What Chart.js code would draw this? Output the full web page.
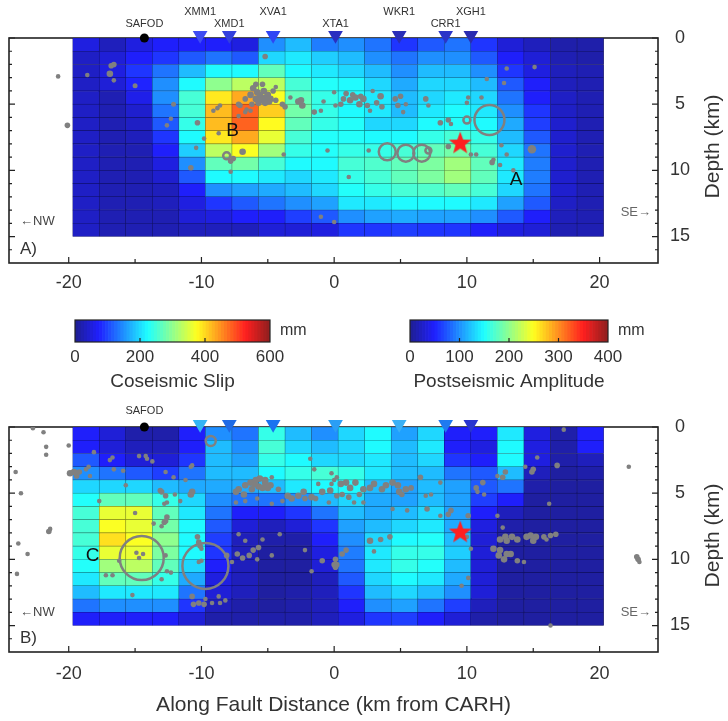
<!DOCTYPE html>
<html>
<head>
<meta charset="utf-8">
<script src="https://cdn.jsdelivr.net/npm/chart.js@4.4.1/dist/chart.umd.min.js"></script>
<style>
  body { margin: 0; background: #fff; width: 728px; height: 721px; position: relative; overflow: hidden; }
  canvas { position: absolute; }
</style>
</head>
<body>
<canvas id="panelA" width="728" height="300" style="left:0;top:0"></canvas>
<canvas id="cbCo" width="270" height="95" style="left:55px;top:305px"></canvas>
<canvas id="cbPost" width="270" height="95" style="left:390px;top:305px"></canvas>
<canvas id="panelB" width="728" height="321" style="left:0;top:400px"></canvas>
<script>
// fault patch centres (km along fault) and patch top depths (km)
const faultX = [-18.7, -16.7, -14.7, -12.7, -10.7, -8.7, -6.7, -4.7, -2.7, -0.7, 1.3, 3.3, 5.3, 7.3, 9.3, 11.3, 13.3, 15.3, 17.3, 19.3];
const depthTop = [0, 1, 2, 3, 4, 5, 6, 7, 8, 9, 10, 11, 12, 13, 14];

const xTicks = [-20, -15, -10, -5, 0, 5, 10, 15, 20];
const depthTicks = [0, 1, 2, 3, 4, 5, 6, 7, 8, 9, 10, 11, 12, 13, 14, 15, 16];
const coTicks = [0, 200, 400, 600];
const postTicks = [0, 100, 200, 300, 400];

// coseismic slip (mm), one row per depth
const coseismicSlip = [
  [54, 30, 54, 72, 72, 72, 54, 150, 180, 138, 150, 132, 90, 114, 132, 90, 48, 30, 18, 18],
  [36, 48, 72, 90, 114, 132, 114, 198, 210, 192, 180, 150, 132, 150, 150, 114, 72, 48, 24, 18],
  [36, 54, 90, 132, 180, 222, 222, 270, 222, 210, 198, 180, 150, 180, 180, 150, 90, 54, 30, 24],
  [36, 48, 78, 150, 222, 300, 330, 330, 252, 228, 222, 198, 168, 198, 198, 180, 114, 72, 30, 24],
  [36, 24, 60, 150, 252, 390, 432, 372, 270, 240, 222, 210, 180, 198, 210, 198, 132, 72, 36, 24],
  [36, 24, 42, 132, 252, 420, 480, 408, 282, 240, 222, 210, 180, 210, 222, 210, 150, 90, 36, 24],
  [36, 24, 36, 114, 240, 420, 480, 378, 270, 240, 228, 198, 198, 222, 228, 222, 168, 96, 42, 24],
  [36, 24, 30, 90, 222, 390, 432, 360, 252, 228, 228, 222, 222, 240, 252, 240, 180, 114, 42, 24],
  [36, 24, 24, 72, 192, 330, 372, 312, 240, 228, 240, 240, 252, 270, 282, 252, 198, 132, 42, 24],
  [36, 24, 24, 54, 150, 270, 282, 252, 222, 222, 252, 258, 270, 288, 312, 270, 210, 138, 42, 24],
  [36, 24, 24, 42, 114, 222, 222, 210, 198, 210, 240, 252, 270, 288, 312, 270, 210, 138, 42, 24],
  [36, 24, 24, 30, 72, 150, 162, 168, 180, 198, 228, 240, 252, 258, 270, 252, 198, 132, 42, 24],
  [36, 24, 24, 30, 54, 90, 114, 132, 150, 162, 210, 210, 222, 222, 222, 210, 162, 114, 36, 24],
  [36, 24, 24, 24, 48, 54, 72, 72, 96, 114, 150, 162, 168, 162, 162, 150, 114, 72, 30, 24],
  [36, 24, 24, 24, 30, 30, 30, 48, 48, 54, 90, 90, 96, 90, 90, 72, 54, 48, 24, 24]
];

// postseismic amplitude (mm)
const postseismicAmp = [
  [48, 32, 12, 12, 48, 100, 88, 160, 120, 100, 132, 148, 108, 132, 48, 48, 140, 36, 12, 48],
  [48, 32, 20, 20, 48, 120, 100, 168, 132, 120, 132, 148, 120, 140, 48, 36, 148, 36, 12, 48],
  [76, 48, 32, 32, 60, 120, 108, 160, 148, 132, 132, 140, 120, 132, 60, 48, 148, 36, 12, 20],
  [100, 88, 76, 64, 88, 120, 120, 148, 160, 168, 160, 140, 120, 120, 88, 76, 120, 20, 8, 12],
  [132, 132, 132, 120, 112, 112, 112, 120, 140, 148, 148, 120, 108, 120, 108, 76, 88, 12, 8, 8],
  [152, 180, 180, 160, 132, 100, 88, 88, 100, 120, 132, 112, 108, 120, 108, 64, 48, 8, 8, 8],
  [168, 240, 240, 180, 140, 88, 48, 48, 60, 88, 120, 112, 120, 132, 108, 48, 20, 8, 8, 8],
  [168, 248, 240, 188, 148, 76, 32, 20, 32, 60, 108, 120, 132, 140, 112, 36, 12, 8, 8, 8],
  [168, 264, 248, 200, 148, 64, 20, 12, 12, 48, 100, 132, 148, 152, 120, 32, 8, 8, 8, 8],
  [160, 240, 240, 192, 148, 60, 20, 8, 8, 36, 92, 140, 160, 160, 128, 32, 8, 8, 8, 8],
  [152, 208, 220, 180, 132, 48, 20, 8, 8, 32, 88, 140, 160, 152, 120, 32, 8, 8, 8, 8],
  [140, 180, 180, 160, 112, 36, 20, 8, 8, 20, 76, 132, 148, 140, 112, 32, 8, 8, 8, 8],
  [120, 140, 140, 140, 88, 32, 20, 8, 12, 20, 60, 120, 132, 120, 100, 32, 8, 8, 8, 8],
  [88, 100, 100, 100, 60, 20, 12, 8, 12, 20, 48, 100, 108, 88, 64, 20, 8, 8, 8, 8],
  [48, 48, 48, 48, 32, 12, 12, 12, 12, 20, 36, 60, 64, 48, 32, 12, 8, 8, 8, 8]
];

// seismicity: [km along fault, depth km, dot radius]
const quakesA = [
  [-20.8, 2.9, 2], [-20.1, 6.6, 2.5], [-18.6, 2.8, 2], [-16.8, 2.1, 2.5], [-16.6, 2.0, 2.5], [-16.9, 2.7, 3], [-16.6, 3.2, 2],
  [-15.0, 3.6, 2.2], [-12.1, 5.0, 2.2], [-12.3, 6.1, 2], [-12.6, 6.6, 2], [-10.3, 6.4, 2.5], [-9.8, 7.6, 2], [-10.4, 8.3, 2],
  [-10.8, 9.8, 2.5], [-8.7, 7.2, 2], [-9.1, 5.5, 2], [-8.8, 5.3, 2], [-8.6, 5.1, 2], [-7.8, 9.3, 2.5], [-7.6, 9.1, 2.5],
  [-7.8, 10.1, 2], [-6.9, 8.6, 3], [-3.8, 8.8, 2], [-5.2, 1.4, 2.5],
  [-6.1, 3.8, 3], [-5.8, 4.1, 3], [-5.4, 3.5, 2.5], [-5.2, 4.5, 3], [-4.9, 4.8, 3], [-5.5, 4.7, 3], [-5.9, 4.6, 3],
  [-6.2, 5.0, 2.5], [-6.7, 4.6, 2.5], [-7.2, 5.0, 2.5], [-7.1, 5.1, 2.5], [-4.4, 3.7, 2], [-3.9, 5.0, 2.5], [-3.7, 5.2, 2.5],
  [-3.3, 4.5, 2], [-2.7, 4.8, 3], [-2.4, 5.1, 3], [-2.5, 4.7, 3], [-1.5, 5.6, 2.5], [-1.0, 5.5, 2], [-0.8, 4.8, 2],
  [0.0, 4.1, 2], [0.1, 5.1, 2], [-0.5, 8.5, 2], [-6.7, 5.6, 2], [-6.3, 5.5, 2], [-6.6, 5.4, 2], [-5.6, 4.3, 3],
  [-5.3, 4.0, 3], [-5.0, 4.3, 3], [-4.8, 4.6, 3], [-5.7, 4.9, 3], [-6.3, 4.3, 3], [-4.6, 4.0, 2.5], [-5.9, 3.5, 2.5],
  [-5.2, 4.9, 3], [-4.4, 4.7, 2.5], [-7.2, 5.9, 2], [-1.0, 13.5, 2], [0.0, 13.9, 2], [1.1, 10.5, 2],
  [0.9, 4.2, 2.5], [1.2, 4.7, 3], [1.6, 4.5, 3], [1.9, 5.0, 3], [2.2, 4.6, 3], [2.5, 5.1, 2.5], [2.9, 4.0, 2],
  [3.2, 4.9, 2.5], [3.5, 4.4, 3], [3.6, 5.2, 2.5], [0.5, 5.0, 2.5], [0.7, 4.6, 2.5], [2.7, 5.5, 2], [1.4, 4.3, 2.5],
  [2.0, 4.4, 2.5], [4.6, 4.6, 2.5], [5.0, 4.4, 2.5], [4.8, 5.1, 2.5], [5.4, 5.0, 2], [5.2, 5.6, 2], [6.9, 4.6, 2.5],
  [7.1, 5.1, 2], [8.0, 6.4, 2.5], [8.6, 6.2, 2.5], [8.8, 6.5, 2], [10.1, 4.5, 2], [10.0, 4.9, 2], [11.1, 4.5, 2],
  [11.5, 3.1, 2], [12.8, 3.4, 2], [13.0, 2.3, 2], [15.1, 2.2, 2], [8.6, 8.2, 2.5], [10.3, 8.8, 2], [10.7, 8.8, 2],
  [11.9, 9.4, 2.5], [12.0, 9.2, 2], [12.5, 9.6, 2], [12.6, 8.1, 2], [13.0, 8.8, 2], [13.5, 10.0, 2], [14.9, 8.4, 4],
  [2.6, 8.5, 2]
];
const quakesB = [
  [-22.7, 0.1, 2], [-21.9, 0.4, 2], [-21.7, 1.5, 2], [-21.7, 2.1, 2], [-24.0, 3.4, 2], [-23.6, 5.0, 2], [-21.5, 7.9, 2.5],
  [-21.4, 7.7, 2], [-23.8, 8.8, 2], [-23.1, 9.6, 2], [-23.9, 11.1, 2], [-20.0, 1.4, 2],
  [-18.1, 1.9, 2], [-16.7, 2.3, 2], [-16.9, 2.5, 2], [-14.7, 2.2, 2], [-14.2, 2.2, 2], [-14.1, 2.4, 2], [-13.7, 2.6, 2],
  [-19.6, 3.4, 3], [-19.9, 3.5, 3], [-19.2, 3.4, 2.5], [-18.7, 3.2, 2], [-18.5, 3.0, 2], [-19.4, 3.7, 2.5], [-18.4, 3.7, 2],
  [-16.6, 3.2, 2], [-15.9, 3.3, 2], [-15.7, 4.4, 2], [-17.7, 5.6, 2], [-15.0, 6.5, 2],
  [-13.0, 4.9, 2.5], [-12.7, 5.2, 2.5], [-13.1, 4.8, 2.5], [-12.0, 5.1, 2], [-12.6, 5.7, 2], [-12.8, 5.8, 2], [-12.6, 6.8, 2.5],
  [-12.7, 7.1, 2.5], [-12.8, 7.2, 2.5], [-13.6, 7.3, 2], [-13.0, 7.5, 2],
  [-10.7, 4.9, 3], [-10.8, 5.1, 3], [-11.6, 5.6, 2], [-12.1, 3.8, 2], [-11.2, 4.0, 2], [-10.7, 2.9, 2], [-10.8, 3.0, 2], [-12.7, 3.4, 2],
  [-10.3, 8.3, 2.5], [-10.2, 8.7, 2.5], [-10.1, 9.0, 2.5], [-10.0, 9.2, 2],
  [-12.7, 9.7, 2], [-13.0, 11.5, 2], [-12.6, 10.9, 2], [-12.3, 11.0, 2],
  [-14.4, 9.6, 2], [-14.9, 9.5, 2], [-14.7, 9.9, 2], [-16.2, 10.1, 2], [-17.2, 11.2, 2], [-16.7, 11.2, 2], [-15.2, 12.7, 2],
  [-10.7, 12.8, 2.5], [-10.6, 13.4, 2.5], [-10.2, 13.3, 2.5], [-9.8, 13.4, 2.5], [-9.7, 13.0, 2], [-9.2, 13.3, 2], [-8.7, 12.8, 2],
  [-8.6, 13.3, 2], [-8.2, 13.1, 2], [-10.0, 10.1, 2], [-10.2, 10.2, 2],
  [-7.4, 4.9, 3], [-7.2, 4.7, 3], [-6.7, 4.4, 3], [-6.3, 4.2, 3], [-5.9, 4.0, 3], [-5.6, 3.9, 3], [-5.2, 4.2, 3], [-4.8, 4.4, 3],
  [-5.4, 4.6, 3], [-6.2, 4.7, 3], [-6.8, 5.1, 3], [-7.4, 5.7, 2], [-6.7, 5.6, 2], [-5.8, 5.4, 2], [-5.2, 4.0, 3], [-4.7, 3.8, 2],
  [-5.0, 4.6, 3], [-5.7, 4.5, 3], [-6.0, 4.3, 3],
  [-4.2, 4.7, 2.5], [-3.5, 5.2, 3], [-3.2, 5.4, 3], [-2.7, 5.2, 3], [-2.3, 4.9, 3], [-2.2, 5.4, 2.5], [-1.7, 5.3, 3], [-1.2, 4.3, 2],
  [-1.4, 5.4, 2.5], [-0.2, 3.5, 2], [0.0, 4.0, 2], [-0.9, 4.9, 3], [-0.3, 4.8, 3], [-0.4, 5.7, 2], [-1.8, 2.4, 2], [-1.5, 3.2, 2],
  [-4.7, 5.8, 2], [-3.9, 5.6, 2],
  [-7.2, 8.1, 2], [-6.7, 8.6, 2], [-6.1, 9.3, 2.5], [-5.7, 9.1, 2.5], [-5.4, 8.5, 2], [-5.8, 10.0, 2], [-6.4, 9.7, 2.5], [-6.9, 9.9, 2.5],
  [-7.7, 10.2, 2], [-8.1, 9.7, 2.5], [-7.3, 9.6, 2.5], [-4.7, 9.7, 2], [-4.1, 8.1, 2], [-2.2, 9.3, 2], [-1.7, 10.9, 2], [-0.9, 10.1, 2.5],
  [0.0, 10.4, 2.5], [0.1, 10.0, 2.5],
  [-0.2, 4.3, 2], [0.2, 3.8, 2], [0.5, 4.3, 3], [0.9, 4.2, 3], [1.2, 4.6, 3], [1.6, 4.2, 3], [2.2, 4.7, 3], [2.7, 4.6, 3],
  [3.0, 4.3, 3], [3.6, 4.7, 3], [3.9, 4.4, 3], [4.4, 4.2, 3], [4.8, 4.4, 3], [4.9, 4.9, 3], [5.1, 5.1, 2.5], [5.4, 4.7, 3],
  [5.8, 4.6, 2.5], [0.2, 5.2, 2.5], [0.6, 5.1, 2.5], [1.1, 5.3, 2.5], [1.9, 5.1, 2.5], [1.5, 5.7, 2], [2.2, 5.7, 2],
  [6.5, 3.8, 2.5], [6.9, 5.2, 2], [7.3, 5.1, 2], [5.5, 6.3, 2], [4.4, 6.2, 2], [7.0, 6.2, 2.5], [8.0, 6.7, 2], [8.8, 6.3, 2.5],
  [8.6, 6.6, 2.5], [10.1, 6.7, 2.5], [10.0, 8.3, 2], [10.3, 9.2, 2], [10.1, 11.4, 2], [9.6, 12.0, 2],
  [2.7, 8.6, 3], [3.5, 8.5, 2.5], [4.2, 8.3, 2.5], [3.0, 9.4, 2], [0.9, 9.3, 2.5], [0.6, 9.6, 2.5], [0.2, 10.4, 2.5], [0.1, 10.6, 2.5],
  [8.0, 4.2, 2], [10.7, 4.6, 2.5], [11.2, 4.2, 2.5], [11.3, 5.1, 2], [10.8, 4.9, 2], [12.3, 3.7, 2], [12.7, 3.8, 2.5], [12.9, 3.4, 2.5],
  [14.4, 3.0, 2], [14.9, 3.4, 2.5], [15.0, 3.2, 2.5], [15.3, 2.3, 2], [16.8, 2.9, 2.5], [17.3, 0.2, 2], [16.2, 5.8, 2], [12.3, 6.7, 2],
  [12.7, 7.6, 2],
  [12.5, 8.5, 3], [13.0, 8.6, 3], [13.4, 8.3, 3], [13.8, 8.5, 3], [12.9, 8.3, 3], [12.0, 9.2, 3], [12.5, 9.3, 3], [13.0, 9.6, 3],
  [12.8, 10.0, 3], [13.3, 9.6, 3], [12.4, 9.7, 3], [13.8, 10.1, 2.5], [14.3, 10.2, 2],
  [14.5, 8.3, 3], [14.8, 8.2, 3], [15.2, 8.3, 3], [15.8, 8.3, 2.5], [16.3, 8.2, 2.5], [16.7, 8.1, 2.5], [16.0, 8.5, 2], [15.0, 8.6, 3],
  [16.3, 15.0, 2], [22.2, 3.0, 2], [22.9, 10.0, 2.5], [22.8, 9.8, 2.5], [23.0, 10.2, 2]
];

// larger events drawn as open circles: [km, depth km, radius px]
const ringsA = [[11.7, 6.2, 15], [4.0, 8.6, 8.5], [5.4, 8.7, 8.5], [6.6, 8.7, 8.5], [10.0, 6.2, 3.5], [-8.1, 8.9, 3.5], [7.1, 8.5, 3]];
const ringsB = [[-9.3, 1.06, 5], [-14.5, 9.9, 22], [-9.7, 10.5, 23]];

const epicenter = [9.5, 7.9];
const safodX = -14.3;

const stationNames = ['XMM1', 'XMD1', 'XVA1', 'XTA1', 'WKR1', 'CRR1', 'XGH1'];
const stationX = [-10.1, -7.9, -4.6, 0.1, 4.9, 8.4, 10.3];
const stationLabelRow = [1, 0, 1, 0, 1, 0, 1];
const stationColorsA = ['#3f4cf2', '#3340dd', '#2f45f5', '#2a30c0', '#2b2fb8', '#2b35c8', '#2a2cb0'];
const stationColorsB = ['#33b5f5', '#1f6ae6', '#1a73f0', '#2a9ef5', '#3bb0f5', '#1f7af0', '#2a35d0'];

const FONT = '"Liberation Sans", Arial, Helvetica, sans-serif';
Chart.defaults.font.family = FONT;
Chart.defaults.color = '#333';

// matlab-style jet, slightly washed toward white like the printed figure
function jetRGB(v) {
  v = Math.max(0, Math.min(1, v));
  const f = t => 255 * Math.max(0, Math.min(1, 1.5 - Math.abs(4 * v - t)));
  return [f(3), f(2), f(1)].map(c => c * 0.88 + 255 * 0.12);
}
function rgb(c, k) {
  return 'rgb(' + c.map(x => Math.round(x * k)).join(',') + ')';
}
function jet(v) { return rgb(jetRGB(v), 1); }

function cellPoints(grid) {
  const pts = [];
  depthTop.forEach((d, r) => {
    faultX.forEach((x, c) => {
      pts.push({ x: x, y: [d, d + 1], v: grid[r][c] });
    });
  });
  return pts;
}

function starImage(R, r, color) {
  const c = document.createElement('canvas');
  const s = Math.ceil(2 * R + 2);
  c.width = s; c.height = s;
  const g = c.getContext('2d');
  g.translate(s / 2, s / 2 + 1);
  g.beginPath();
  for (let i = 0; i < 10; i++) {
    const rad = i % 2 ? r : R;
    const ang = -Math.PI / 2 + i * Math.PI / 5;
    g.lineTo(rad * Math.cos(ang), rad * Math.sin(ang));
  }
  g.closePath();
  g.fillStyle = color;
  g.fill();
  return c;
}

function makeDecor(cfg) {
  return {
    id: 'decor' + cfg.name,
    beforeDatasetsDraw(chart) {
      const { ctx, chartArea: a, scales: { x, y } } = chart;
      ctx.save();
      ctx.strokeStyle = '#222';
      ctx.lineWidth = 1.2;
      ctx.beginPath();
      x.ticks.forEach(t => {
        const px = x.getPixelForValue(t.value);
        const len = t.value % 10 === 0 ? 6 : 4;
        ctx.moveTo(px, a.bottom);
        ctx.lineTo(px, a.bottom - len);
      });
      y.ticks.forEach(t => {
        const py = y.getPixelForValue(t.value);
        const len = t.value % 5 === 0 ? 6 : 3;
        ctx.moveTo(a.left, py);
        ctx.lineTo(a.left + len, py);
        ctx.moveTo(a.right, py);
        ctx.lineTo(a.right - len, py);
      });
      ctx.stroke();
      ctx.lineWidth = 1.6;
      ctx.strokeRect(a.left, a.top, a.right - a.left, a.bottom - a.top);
      ctx.restore();
    },
    afterDatasetsDraw(chart) {
      const { ctx, chartArea: a, scales: { x, y } } = chart;
      ctx.save();
      ctx.textAlign = 'center';
      ctx.textBaseline = 'middle';
      ctx.fillStyle = '#333';
      ctx.font = '11px ' + FONT;
      ctx.fillText('SAFOD', x.getPixelForValue(safodX), a.top - cfg.safodDy);
      if (cfg.stationLabels) {
        stationNames.forEach((n, i) => {
          ctx.fillText(n, x.getPixelForValue(stationX[i]), a.top - (stationLabelRow[i] ? 26 : 14));
        });
      }
      ctx.fillStyle = '#111';
      ctx.font = '19px ' + FONT;
      cfg.letters.forEach(l => {
        ctx.fillText(l[0], x.getPixelForValue(l[1]), y.getPixelForValue(l[2]));
      });
      ctx.textAlign = 'left';
      ctx.font = '17px ' + FONT;
      ctx.fillStyle = '#333';
      ctx.fillText(cfg.panelLabel, a.left + 11, a.bottom - 14);
      ctx.font = '13px ' + FONT;
      ctx.fillStyle = '#444';
      ctx.fillText('\u2190NW', a.left + 11, a.bottom - cfg.nwDy);
      ctx.textAlign = 'right';
      ctx.fillStyle = '#666';
      ctx.fillText('SE\u2192', a.right - 7, a.bottom - cfg.seDy);
      ctx.restore();
    },
    afterDraw(chart) {
      const { ctx, chartArea: a } = chart;
      ctx.save();
      ctx.translate(713, (a.top + a.bottom) / 2 - 4);
      ctx.rotate(-Math.PI / 2);
      ctx.textAlign = 'center';
      ctx.textBaseline = 'middle';
      ctx.fillStyle = '#333';
      ctx.font = '21px ' + FONT;
      ctx.fillText('Depth (km)', 0, 0);
      ctx.restore();
    }
  };
}

const epicenterStar = starImage(12, 5, '#ff2020');

function makePanel(id, cfg) {
  const ctx = document.getElementById(id).getContext('2d');
  const cells = cellPoints(cfg.grid);
  return new Chart(ctx, {
    type: 'bar',
    data: {
      datasets: [
        {
          type: 'scatter', order: 0, clip: false,
          data: stationX.map(v => ({ x: v, y: -0.2 })),
          pointStyle: 'triangle', rotation: 180, pointRadius: 8.5,
          backgroundColor: cfg.stationColors, borderWidth: 0
        },
        {
          type: 'scatter', order: 0, clip: false,
          data: [{ x: safodX, y: 0 }],
          pointRadius: 4.5, backgroundColor: '#000', borderWidth: 0
        },
        {
          type: 'scatter', order: 1,
          data: [{ x: epicenter[0], y: epicenter[1] }],
          pointStyle: epicenterStar
        },
        {
          type: 'scatter', order: 2,
          data: cfg.rings.map(q => ({ x: q[0], y: q[1] })),
          pointRadius: cfg.rings.map(q => q[2]),
          backgroundColor: 'rgba(0,0,0,0)', borderColor: '#808080', borderWidth: 2.5
        },
        {
          type: 'scatter', order: 3,
          data: cfg.quakes.map(q => ({ x: q[0], y: q[1] })),
          pointRadius: cfg.quakes.map(q => q[2] + 0.3),
          backgroundColor: '#808080', borderWidth: 0
        },
        {
          type: 'bar', order: 10, grouped: false,
          data: cells,
          backgroundColor: cells.map(p => jet(p.v / cfg.maxVal)),
          borderColor: cells.map(p => rgb(jetRGB(p.v / cfg.maxVal), 0.55)),
          borderWidth: 0.6, borderSkipped: false,
          barPercentage: 1, categoryPercentage: 1
        }
      ]
    },
    options: {
      responsive: false,
      animation: false,
      devicePixelRatio: 1,
      events: [],
      layout: { autoPadding: false, padding: { left: 9, top: cfg.padTop, right: 26, bottom: 0 } },
      plugins: { legend: { display: false }, tooltip: { enabled: false } },
      scales: {
        x: {
          type: 'linear', min: -24.5, max: 24.4, offset: false,
          afterBuildTicks: s => { s.ticks = xTicks.map(v => ({ value: v })); },
          afterFit: s => { s.height = cfg.xHeight; s.paddingLeft = 0; s.paddingRight = 0; },
          grid: { display: false, drawTicks: false },
          border: { display: false },
          ticks: {
            autoSkip: false, maxRotation: 0, padding: cfg.tickPad, color: '#333',
            font: { size: 18 },
            callback: v => (v % 10 === 0 ? String(v) : '')
          },
          title: {
            display: !!cfg.xTitle, text: cfg.xTitle || '', color: '#333',
            font: { size: 21 }, padding: { top: 0, bottom: 3 }
          }
        },
        y: {
          type: 'linear', position: 'right', reverse: true, min: 0, max: 17,
          afterBuildTicks: s => { s.ticks = depthTicks.map(v => ({ value: v })); },
          afterFit: s => { s.width = 44; s.paddingTop = 0; s.paddingBottom = 0; },
          grid: { display: false, drawTicks: false },
          border: { display: false },
          ticks: {
            autoSkip: false, crossAlign: 'center', padding: 12, color: '#333',
            font: { size: 18 },
            callback: v => (v % 5 === 0 ? String(v) : '')
          }
        }
      }
    },
    plugins: [makeDecor(cfg)]
  });
}

const colorbarDecor = {
  id: 'colorbarDecor',
  afterDatasetsDraw(chart) {
    const { ctx, chartArea: a, scales: { x } } = chart;
    ctx.save();
    ctx.strokeStyle = '#222';
    ctx.lineWidth = 1.2;
    ctx.strokeRect(a.left, a.top, a.right - a.left, a.bottom - a.top);
    ctx.beginPath();
    x.ticks.forEach((t, i) => {
      if (i === 0 || i === x.ticks.length - 1) return;
      const px = x.getPixelForValue(t.value);
      ctx.moveTo(px, a.bottom);
      ctx.lineTo(px, a.bottom - 4);
    });
    ctx.stroke();
    ctx.fillStyle = '#333';
    ctx.font = '16px ' + FONT;
    ctx.textAlign = 'left';
    ctx.textBaseline = 'middle';
    ctx.fillText('mm', a.right + 10, (a.top + a.bottom) / 2);
    ctx.restore();
  }
};

function makeColorbar(id, maxVal, ticks, title, padRight) {
  const steps = [];
  for (let i = 0; i < 64; i++) steps.push([i * maxVal / 64, (i + 1) * maxVal / 64]);
  const ctx = document.getElementById(id).getContext('2d');
  return new Chart(ctx, {
    type: 'bar',
    data: {
      labels: ['bar'],
      datasets: [{
        data: steps.map(s => ({ x: s, y: 'bar' })),
        backgroundColor: steps.map(s => jet((s[0] + s[1]) / 2 / maxVal)),
        borderWidth: 0, grouped: false, barPercentage: 1, categoryPercentage: 1
      }]
    },
    options: {
      indexAxis: 'y',
      responsive: false,
      animation: false,
      devicePixelRatio: 1,
      events: [],
      layout: { autoPadding: false, padding: { left: 20, top: 15, right: padRight, bottom: 0 } },
      plugins: { legend: { display: false }, tooltip: { enabled: false } },
      scales: {
        x: {
          type: 'linear', min: 0, max: maxVal,
          afterBuildTicks: s => { s.ticks = ticks.map(v => ({ value: v })); },
          afterFit: s => { s.height = 58; s.paddingLeft = 0; s.paddingRight = 0; },
          grid: { display: false, drawTicks: false },
          border: { display: false },
          ticks: { autoSkip: false, maxRotation: 0, padding: 5, color: '#333', font: { size: 17 } },
          title: { display: true, text: title, color: '#333', font: { size: 19 }, padding: { top: 0, bottom: 7 } }
        },
        y: { type: 'category', display: false }
      }
    },
    plugins: [colorbarDecor]
  });
}

makePanel('panelA', {
  name: 'A', grid: coseismicSlip, maxVal: 600, quakes: quakesA, rings: ringsA,
  stationColors: stationColorsA, stationLabels: true, safodDy: 14,
  letters: [['B', -7.66, 7.0], ['A', 13.7, 10.7]],
  panelLabel: 'A)', nwDy: 42, seDy: 51,
  padTop: 38, xHeight: 37, tickPad: 9, xTitle: null
});

makePanel('panelB', {
  name: 'B', grid: postseismicAmp, maxVal: 400, quakes: quakesB, rings: ringsB,
  stationColors: stationColorsB, stationLabels: false, safodDy: 16,
  letters: [['C', -18.2, 9.7]],
  panelLabel: 'B)', nwDy: 40, seDy: 40,
  padTop: 27, xHeight: 69, tickPad: 11, xTitle: 'Along Fault Distance (km from CARH)'
});

makeColorbar('cbCo', 600, coTicks, 'Coseismic Slip', 55);
makeColorbar('cbPost', 400, postTicks, 'Postseismic Amplitude', 52);
</script>
</body>
</html>
